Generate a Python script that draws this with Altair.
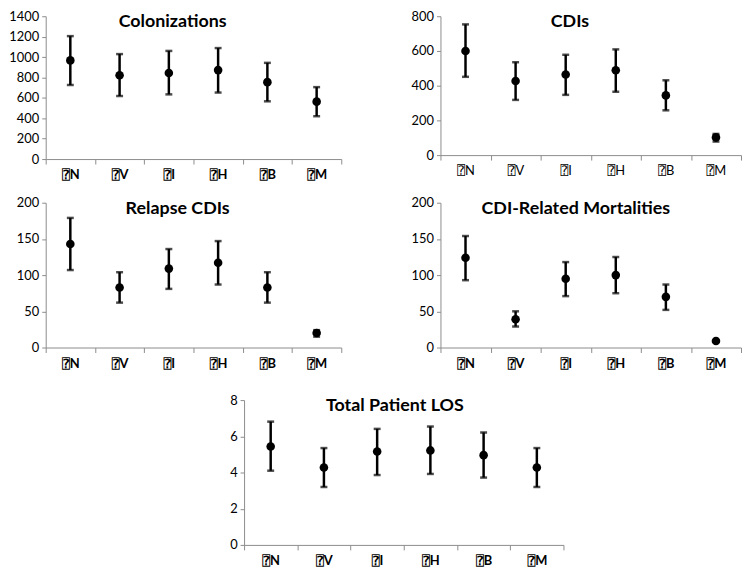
import altair as alt
import pandas as pd

categories = ["⍰N", "⍰V", "⍰I", "⍰H", "⍰B", "⍰M"]

col_mean = [967, 822, 844, 872, 754, 563]
col_low = [726, 618, 634, 652, 566, 420]
col_high = [1205, 1029, 1060, 1088, 943, 705]

cdi_mean = [600, 427, 464, 489, 344, 102]
cdi_low = [451, 318, 347, 365, 258, 78]
cdi_high = [753, 535, 578, 609, 431, 122]

rel_mean = [143, 83, 109, 117, 83, 20]
rel_low = [107, 62, 81, 87, 62, 15]
rel_high = [179, 104, 136, 147, 104, 24]

mort_mean = [124, 39, 95, 100, 70, 9]
mort_low = [93, 29, 71, 75, 52, 8]
mort_high = [154, 50, 118, 125, 87, 10]

los_mean = [5.44, 4.28, 5.16, 5.22, 4.96, 4.28]
los_low = [4.10, 3.20, 3.86, 3.92, 3.72, 3.20]
los_high = [6.81, 5.35, 6.41, 6.54, 6.21, 5.35]

FONT = "Lato, 'DejaVu Sans Mono', 'DejaVu Sans'"
AXIS_GRAY = "#8c8c8c"


def panel(title, mean, low, high, ymax, step, width, height, bold, tdx):
    df = pd.DataFrame({"cat": categories, "mean": mean, "low": low, "high": high})
    x = alt.X(
        "cat:N",
        sort=categories,
        title=None,
        scale=alt.Scale(paddingInner=0, paddingOuter=0),
        axis=alt.Axis(
            labelAngle=0,
            tickBand="extent",
            tickSize=5,
            tickColor=AXIS_GRAY,
            domainColor=AXIS_GRAY,
            labelFont=FONT,
            labelFontSize=13,
            labelFontWeight="bold" if bold else "normal",
            labelColor="#000000",
            labelPadding=5,
            minExtent=24,
            maxExtent=24,
        ),
    )
    yscale = alt.Scale(domain=[0, ymax], nice=False)
    yaxis = alt.Axis(
        values=list(range(0, ymax + step, step)),
        format="d",
        labelOverlap=False,
        tickSize=4,
        tickColor=AXIS_GRAY,
        domainColor=AXIS_GRAY,
        grid=False,
        labelFont=FONT,
        labelFontSize=13,
        labelColor="#000000",
        labelPadding=3,
        minExtent=37,
        maxExtent=37,
    )

    def Y(field):
        return alt.Y(field, scale=yscale, axis=yaxis, title=None)

    base = alt.Chart(df)
    rules = base.mark_rule(color="black", strokeWidth=2.5).encode(
        x=x, y=Y("low:Q"), y2="high:Q"
    )
    caps_hi = base.mark_tick(color="black", size=7, thickness=2.5).encode(x=x, y=Y("high:Q"))
    caps_lo = base.mark_tick(color="black", size=7, thickness=2.5).encode(x=x, y=Y("low:Q"))
    pts = base.mark_point(filled=True, color="black", opacity=1, size=75, shape="circle").encode(
        x=x, y=Y("mean:Q")
    )
    tdf = pd.DataFrame({"t": [title]})
    ttl = alt.Chart(tdf).mark_text(
        font="Lato", fontSize=18, fontWeight="bold", color="black", baseline="middle", align="center"
    ).encode(text="t:N", x=alt.value(width / 2 + tdx), y=alt.value(6))
    return alt.layer(rules, caps_hi, caps_lo, pts, ttl).properties(width=width, height=height)


p1 = panel("Colonizations", col_mean, col_low, col_high, 1400, 200, 298, 144, True, -21)
p2 = panel("CDIs", cdi_mean, cdi_low, cdi_high, 800, 200, 303, 140, False, -21)
p3 = panel("Relapse CDIs", rel_mean, rel_low, rel_high, 200, 50, 298, 146, True, -16)
p4 = panel("CDI-Related Mortalities", mort_mean, mort_low, mort_high, 200, 50, 303, 146, True, -15)
p5 = panel("Total Patient LOS", los_mean, los_low, los_high, 8, 2, 322, 146, True, -9)

spacer = alt.Chart(pd.DataFrame({"a": [0]})).mark_point(opacity=0, size=1).encode(
    x=alt.value(0), y=alt.value(0)
).properties(width=163, height=10)

row1 = alt.hconcat(p1, p2, spacing=62)
row2 = alt.hconcat(p3, p4, spacing=62)
row3 = alt.hconcat(spacer, p5, spacing=0)

top_rows = alt.vconcat(row1, row2, spacing=14)
chart = alt.vconcat(top_rows, row3, spacing=23).properties(padding=0).configure_view(strokeWidth=0)

chart.save("out.html", embed_options={"renderer": "svg", "actions": False})
